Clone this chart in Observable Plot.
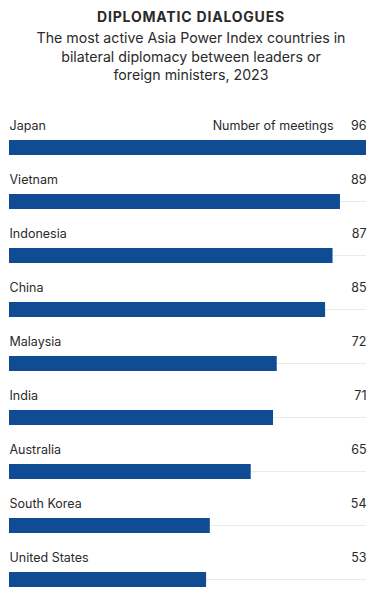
<!DOCTYPE html>
<html><head><meta charset="utf-8">
<script src="https://cdn.jsdelivr.net/npm/d3@7"></script>
<script src="https://cdn.jsdelivr.net/npm/@observablehq/plot@0.6"></script>
<style>
html,body{margin:0;padding:0;background:#fff;width:382px;overflow:hidden;}
body{font-family:Inter,"Noto Sans",sans-serif;color:#2a2a2a;}
#title{margin:0;padding-top:8px;text-align:center;font-weight:700;font-size:14px;letter-spacing:0.8px;line-height:18px;}
#sub{margin:3px 0 0 0;text-align:center;font-size:14.2px;line-height:18.5px;}
#chart{position:absolute;top:101px;left:0;}
</style></head>
<body>
<div id="title">DIPLOMATIC DIALOGUES</div>
<div id="sub">The most active Asia Power Index countries in<br>bilateral diplomacy between leaders or<br>foreign ministers, 2023</div>
<div id="chart"></div>
<script>
const countries = ["Japan","Vietnam","Indonesia","China","Malaysia","India","Australia","South Korea","United States"];
const meetings = [96,89,87,85,72,71,65,54,53];
const unitLabel = "Number of meetings";
const maxValue = 96;

const data = countries.map((c,i)=>({country:c, value:meetings[i]}));

const chart = Plot.plot({
  width: 382,
  height: 489,
  marginLeft: 9,
  marginRight: 16,
  marginTop: 0,
  marginBottom: 3,
  x: {domain:[0,maxValue], axis:null},
  y: {domain: countries, axis:null, padding:0},
  style: {fontFamily:"Inter, 'Noto Sans', sans-serif", color:"#2a2a2a", background:"#fff"},
  marks: [
    Plot.barX(data, {y:"country", x1:0, x2:maxValue, fill:"#d2d4d8", insetTop:46.5, insetBottom:7}),
    Plot.barX(data, {y:"country", x:"value", fill:"#0f4c93", insetTop:39, insetBottom:0}),
    Plot.text(data, {y:"country", x:0, text:"country", textAnchor:"start", dy:-3, fontSize:12.5, fill:"#2a2a2a"}),
    Plot.text(data, {y:"country", x:maxValue, text:d=>String(d.value), textAnchor:"end", dy:-3, fontSize:12.5, fill:"#2a2a2a"}),
    Plot.text([data[0]], {y:"country", x:maxValue, text:()=>unitLabel, textAnchor:"end", dx:-33, dy:-3, fontSize:12.5, fill:"#2a2a2a"})
  ]
});
document.getElementById("chart").appendChild(chart);
</script>
</body></html>
